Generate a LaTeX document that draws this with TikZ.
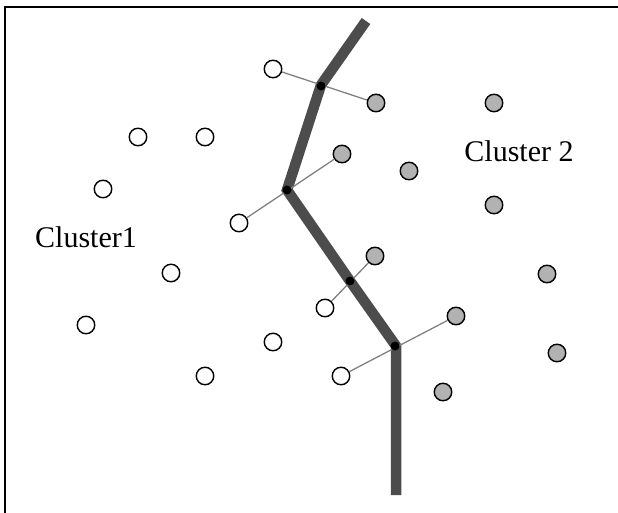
\documentclass[tikz,border=0pt]{standalone}
\usepackage{fontspec}
\setmainfont{Liberation Serif}
\begin{document}
\begin{tikzpicture}[x=1pt,y=-1pt,
  wc/.style={circle,draw=black,fill=white,line width=1.4pt,minimum size=17.5pt,inner sep=0pt},
  gc/.style={circle,draw=black,fill=gray!60,line width=1.4pt,minimum size=17.5pt,inner sep=0pt},
  dot/.style={circle,fill=black,minimum size=9pt,inner sep=0pt},
  link/.style={draw=gray,line width=1.3pt},
  border/.style={draw=black,line width=2pt},
  bound/.style={draw=black!70,line width=10.5pt},
  lbl/.style={font=\fontsize{30}{31}\selectfont,anchor=base,inner sep=0pt}]
\useasboundingbox (0,0) rectangle (618,513);
\coordinate (f1) at (618,7);
\coordinate (f2) at (5,7);
\coordinate (f3) at (5,513);
\draw[border] (f1) -- (f2) -- (f3);
% boundary
\coordinate (t0) at (366,21);
\coordinate (t1) at (321,85);
\coordinate (t2) at (287,190);
\coordinate (t3) at (350,281);
\coordinate (t4) at (396,346);
\coordinate (t5) at (396,495);
\draw[bound] (t0) -- (t1) -- (t2) -- (t3) -- (t4) -- (t5);
% white circles
\node[wc] (w1) at (273,69) {};
\node[wc] (w2) at (138,137) {};
\node[wc] (w3) at (205,137) {};
\node[wc] (w4) at (103,189) {};
\node[wc] (w5) at (239,223) {};
\node[wc] (w6) at (171,273) {};
\node[wc] (w7) at (86,325) {};
\node[wc] (w8) at (273,342) {};
\node[wc] (w9) at (205,376) {};
\node[wc] (w10) at (325,308) {};
\node[wc] (w11) at (341,376) {};
% gray circles
\node[gc] (g1) at (376,103) {};
\node[gc] (g2) at (494,103) {};
\node[gc] (g3) at (342,154) {};
\node[gc] (g4) at (409,171) {};
\node[gc] (g5) at (494,205) {};
\node[gc] (g6) at (375,256) {};
\node[gc] (g7) at (547,274) {};
\node[gc] (g8) at (456,316) {};
\node[gc] (g9) at (557,353) {};
\node[gc] (g10) at (443,392) {};
% links
\draw[link] (w1) -- (g1);
\draw[link] (g3) -- (w5);
\draw[link] (g6) -- (w10);
\draw[link] (g8) -- (w11);
% support points
\node[dot] (d1) at (321,86) {};
\node[dot] (d2) at (287,190) {};
\node[dot] (d3) at (350,281) {};
\node[dot] (d4) at (395,346) {};
% labels
\node[lbl] (c1) at (86,247) {Cluster1};
\node[lbl] (c2) at (519,162) {Cluster 2};
\end{tikzpicture}
\end{document}
